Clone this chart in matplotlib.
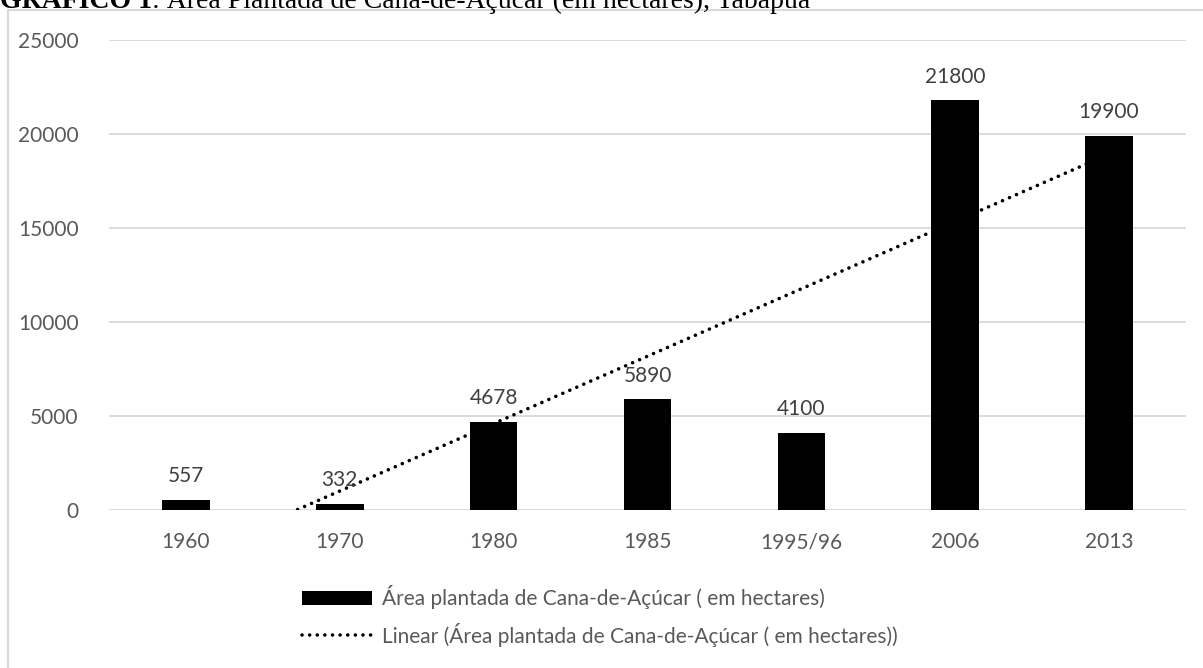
import numpy as np
import matplotlib
matplotlib.use('Agg')
import matplotlib.pyplot as plt
from matplotlib.patches import Rectangle

# dados
anos = ['1960', '1970', '1980', '1985', '1995/96', '2006', '2013']
area = [557, 332, 4678, 5890, 4100, 21800, 19900]
serie = 'Área plantada de Cana-de-Açúcar ( em hectares)'
yticks = [0, 5000, 10000, 15000, 20000, 25000]

plt.rcParams['font.family'] = ['Lato', 'DejaVu Sans']
cinza = '#595959'

fig = plt.figure(figsize=(12.03, 6.68), dpi=100)
ax = fig.add_axes([109/1203, 1 - 510/668, (1186-109)/1203, (510-40)/668])

x = np.arange(len(anos))

# linha de tendencia (minimos quadrados, como no Excel)
coef = np.polyfit(x + 1, area, 1)
tend = np.polyval(coef, x + 1)
ax.plot(x, tend, color='black', lw=2.6, ls=(0, (0.01, 2.1)),
        dash_capstyle='round', zorder=2, label='Linear (' + serie + ')')

barras = ax.bar(x, area, width=0.31, color='black', zorder=3, label=serie)
for xi, v in zip(x, area):
    ax.annotate(str(v), (xi, v), xytext=(0, 17), textcoords='offset points',
                ha='center', va='center', fontsize=15, color='#404040')

ax.set_xlim(-0.5, len(anos) - 0.5)
ax.set_ylim(0, 25000)
ax.set_yticks(yticks)
ax.set_xticks(x)
ax.set_xticklabels(anos)
ax.tick_params(axis='both', length=0, labelsize=15, colors=cinza)
ax.tick_params(axis='x', pad=16)
ax.tick_params(axis='y', pad=22)
ax.grid(axis='y', color='#D9D9D9', lw=1.3, zorder=0)
ax.set_axisbelow(True)
for s in ax.spines.values():
    s.set_visible(False)

h, l = ax.get_legend_handles_labels()
leg = fig.legend([h[1], h[0]], [l[1], l[0]], loc='center left',
                 bbox_to_anchor=(302/1203, 1 - 616/668), frameon=False,
                 fontsize=15, labelcolor=cinza, handlelength=3.36,
                 handletextpad=0.5, labelspacing=0.65, borderpad=0,
                 borderaxespad=0)

# moldura do grafico
fig.patches.append(Rectangle((8/1203, -0.05), 1.1, 1 - 10/668 + 0.05,
                             transform=fig.transFigure, fill=False,
                             edgecolor='#D9D9D9', lw=1.5))

# titulo (cortado no topo)
r = fig.canvas.get_renderer()
t1 = fig.text(0, 1 - 8/668, 'GRÁFICO 1', fontsize=20, fontweight='bold',
              family='Liberation Serif', va='baseline', ha='left')
bb = t1.get_window_extent(r)
fig.text(bb.x1 / fig.bbox.width, 1 - 8/668,
         ': Área Plantada de Cana-de-Açúcar (em hectares), Tabapuã',
         fontsize=20, family='Liberation Serif', va='baseline', ha='left')

fig.savefig('out.png', dpi=100)
